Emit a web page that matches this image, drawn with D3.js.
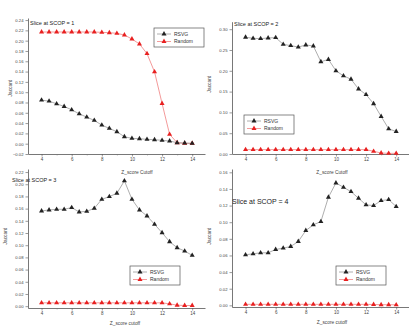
<!DOCTYPE html>
<html><head><meta charset="utf-8">
<script src="https://cdn.jsdelivr.net/npm/d3@7"></script>
<style>body{margin:0;background:#fff}svg{display:block}</style>
</head><body>
<script>
const zCutoffs = [4,4.5,5,5.5,6,6.5,7,7.5,8,8.5,9,9.5,10,10.5,11,11.5,12,12.5,13,13.5,14];
const xTicks = [4,6,8,10,12,14];
const seriesNames = ["RSVG","Random"];

const rsvg1   = [0.0845,0.0826,0.0774,0.0723,0.0658,0.058,0.0516,0.0452,0.0361,0.0297,0.0232,0.0135,0.0103,0.0097,0.0084,0.0077,0.0065,0.0052,0.0019,0.0013,0.0006];
const random1 = [0.2168,0.2168,0.2168,0.2168,0.2168,0.2168,0.2168,0.2168,0.2161,0.2155,0.2142,0.211,0.2032,0.1935,0.1748,0.1394,0.0781,0.0181,0.0019,0.0006,0.0006];
const rsvg2   = [0.2806,0.278,0.2773,0.2789,0.2797,0.2636,0.2604,0.2571,0.262,0.2596,0.2217,0.2273,0.2,0.1878,0.1798,0.1564,0.1427,0.1209,0.0903,0.0605,0.054];
const random2 = [0.0105,0.0105,0.0105,0.0105,0.0105,0.0105,0.0105,0.0105,0.0105,0.0105,0.0105,0.0105,0.0105,0.0105,0.0105,0.0105,0.0105,0.0065,0.0024,0.0016,0.0016];
const rsvg3   = [0.1562,0.1578,0.1589,0.1589,0.1617,0.1545,0.1556,0.1605,0.1753,0.1797,0.1852,0.2055,0.1753,0.1578,0.148,0.1343,0.1205,0.1058,0.0959,0.0904,0.0833];
const random3 = [0.0055,0.0055,0.0055,0.0055,0.0055,0.0055,0.0055,0.0055,0.0055,0.0055,0.0055,0.0055,0.0055,0.0055,0.0055,0.0055,0.0055,0.0038,0.0016,0.0011,0.0011];
const rsvg4   = [0.0608,0.062,0.0632,0.0632,0.0672,0.0688,0.0708,0.0768,0.09,0.0968,0.1008,0.13,0.1472,0.142,0.1368,0.1288,0.1208,0.12,0.126,0.1272,0.1188];
const random4 = [0.0012,0.0012,0.0012,0.0012,0.0012,0.0012,0.0012,0.0012,0.0012,0.0012,0.0012,0.0012,0.0012,0.0012,0.0012,0.0012,0.0012,0.0010,0.0008,0.0008,0.0006];

const yTicks1 = [-0.02,0,0.02,0.04,0.06,0.08,0.10,0.12,0.14,0.16,0.18,0.20,0.22,0.24];
const yTicks2 = [0,0.05,0.10,0.15,0.20,0.25,0.30];
const yTicks3 = [0,0.02,0.04,0.06,0.08,0.10,0.12,0.14,0.16,0.18,0.20,0.22];
const yTicks4 = [0,0.02,0.04,0.06,0.08,0.10,0.12,0.14,0.16];
const titles = ["Slice at SCOP = 1","Slice at SCOP = 2","Slice at SCOP = 3","Slice at SCOP = 4"];
const xLabels = ["Z_score Cutoff","Z_score Cutoff","Z_score cutoff","Z_score cutoff"];

const W=409,H=332;
const svg=d3.select("body").append("svg").attr("width",W).attr("height",H).style("font-family","Liberation Sans, Arial, sans-serif");

const panels=[
 {ox:0,oy:0,rsvg:rsvg1,rand:random1,yd:[-0.02,0.244],yr:[154,18],yt:yTicks1,title:titles[0],tx:30,ty:25,tfs:5.5,
  leg:[154,28],xl:xLabels[0],xlx:137,xly:174,yl:[12,88]},
 {ox:204,oy:0,rsvg:rsvg2,rand:random2,yd:[0,0.318],yr:[154,21.7],yt:yTicks2,title:titles[1],tx:30,ty:26,tfs:5.5,
  leg:[40,115],xl:xLabels[1],xlx:128,xly:174,yl:[7,84]},
 {ox:0,oy:0,rsvg:rsvg3,rand:random3,yd:[-0.003,0.225],yr:[308,169],yt:yTicks3,title:titles[2],tx:12,ty:181.5,tfs:5.5,
  leg:[130,266],xl:xLabels[2],xlx:125,xly:325,yl:[7,236]},
 {ox:204,oy:0,rsvg:rsvg4,rand:random4,yd:[-0.002,0.164],yr:[307,169],yt:yTicks4,title:titles[3],tx:28,ty:204,tfs:7,
  leg:[132,266],xl:xLabels[3],xlx:128,xly:324,yl:[7,236]}
];

const fmt=d3.format(".2f");
panels.forEach(p=>{
  const g=svg.append("g").attr("transform",`translate(${p.ox},${p.oy})`);
  const x=d3.scaleLinear().domain([3.1,14.85]).range([28,205]);
  const y=d3.scaleLinear().domain(p.yd).range(p.yr);
  const xa=g.append("g").attr("transform",`translate(0,${p.yr[0]})`)
    .call(d3.axisBottom(x).tickValues(xTicks).tickSize(2.5).tickSizeOuter(0).tickFormat(d3.format("d")).tickPadding(1.5));
  xa.select(".domain").attr("stroke","#555").attr("stroke-width",0.8);
  xa.selectAll(".tick line").attr("stroke","#555").attr("stroke-width",0.6);
  xa.selectAll("text").attr("font-size",4.5).attr("fill","#444");
  g.append("g").attr("transform",`translate(0,${p.yr[0]})`)
    .call(d3.axisBottom(x).tickValues(d3.range(5,15,2)).tickSize(1.5).tickFormat(""))
    .call(s=>{s.select(".domain").remove();s.selectAll("line").attr("stroke","#777").attr("stroke-width",0.5);});
  const ya=g.append("g").attr("transform","translate(28,0)")
    .call(d3.axisLeft(y).tickValues(p.yt).tickSize(2.5).tickSizeOuter(0).tickFormat(fmt).tickPadding(2));
  ya.select(".domain").attr("stroke","#555").attr("stroke-width",0.8);
  ya.selectAll(".tick line").attr("stroke","#555").attr("stroke-width",0.6);
  ya.selectAll("text").attr("font-size",4.2).attr("fill","#444");
  const line=arr=>d3.line().x((d,i)=>x(zCutoffs[i])).y(d=>y(d))(arr);
  g.append("path").attr("d",line(p.rand)).attr("fill","none").attr("stroke","#f08080").attr("stroke-width",0.8);
  g.append("path").attr("d",line(p.rsvg)).attr("fill","none").attr("stroke","#999").attr("stroke-width",0.8);
  const sym=d3.symbol().type(d3.symbolTriangle).size(11);
  g.selectAll(".pr").data(p.rand).join("path").attr("d",sym)
    .attr("transform",(d,i)=>`translate(${x(zCutoffs[i])},${y(d)})`).attr("fill","#e82020");
  g.selectAll(".pb").data(p.rsvg).join("path").attr("d",sym)
    .attr("transform",(d,i)=>`translate(${x(zCutoffs[i])},${y(d)})`).attr("fill","#222");
  g.append("text").attr("x",p.tx).attr("y",p.ty).attr("font-size",p.tfs).attr("fill","#222").text(p.title);
  g.append("text").attr("x",p.xlx).attr("y",p.xly).attr("text-anchor","middle").attr("font-size",4.8).attr("fill","#444").text(p.xl);
  g.append("text").attr("transform",`translate(${p.yl[0]},${p.yl[1]}) rotate(-90)`).attr("text-anchor","middle")
    .attr("font-size",4.8).attr("fill","#444").text("Jaccard");
  const lg=g.append("g").attr("transform",`translate(${p.leg[0]},${p.leg[1]})`);
  lg.append("rect").attr("width",50).attr("height",19).attr("fill","#fff").attr("stroke","#555").attr("stroke-width",0.7);
  const cols=["#222","#e82020"], lcols=["#999","#f08080"];
  seriesNames.forEach((n,i)=>{
    const yy=6+i*7.5;
    lg.append("line").attr("x1",3).attr("x2",17).attr("y1",yy).attr("y2",yy).attr("stroke",lcols[i]).attr("stroke-width",0.8);
    lg.append("path").attr("d",sym).attr("transform",`translate(10,${yy})`).attr("fill",cols[i]);
    lg.append("text").attr("x",20).attr("y",yy+1.8).attr("font-size",5).attr("fill","#333").text(n);
  });
});
</script>
</body></html>
